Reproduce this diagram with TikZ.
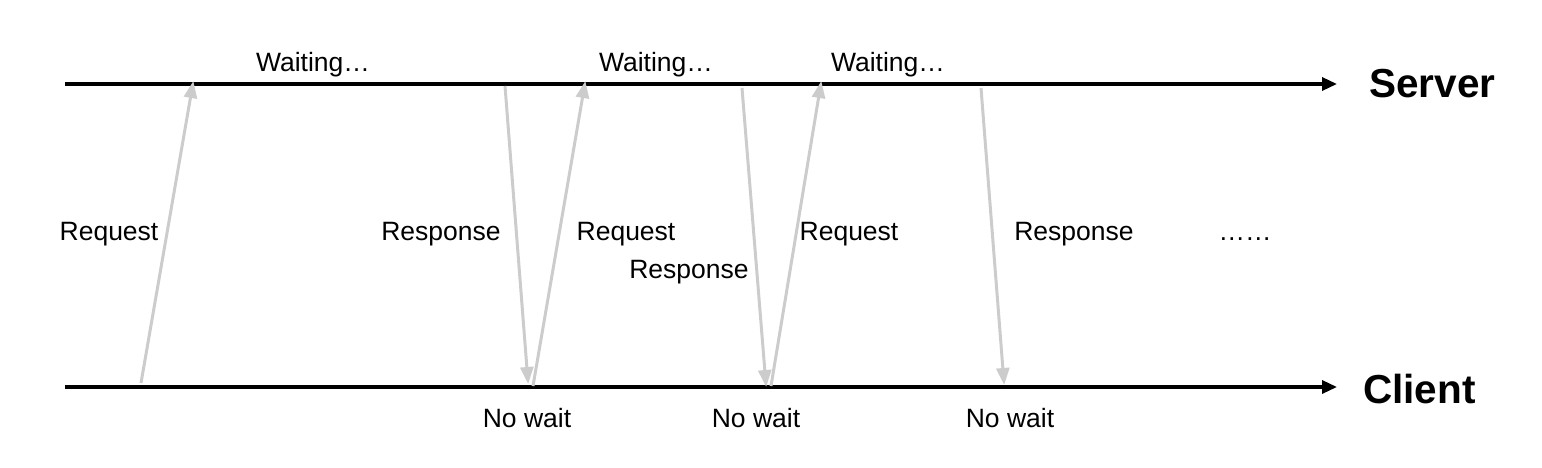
\documentclass[tikz,border=0pt]{standalone}
\usepackage{fontspec}
\setmainfont{Liberation Sans}
\usetikzlibrary{arrows.meta}
\definecolor{msg}{RGB}{204,204,204}
\begin{document}
\begin{tikzpicture}[x=1pt,y=-1pt,
  axis/.style={line width=3.3pt,-{Triangle[length=15pt,width=13pt]}},
  msgarrow/.style={draw=msg,line width=3pt,-{Triangle[length=17pt,width=13pt]},shorten >=-2pt},
  lbl/.style={font=\fontsize{26.5}{30}\selectfont,inner sep=0pt,anchor=base},
  big/.style={font=\fontsize{40.5}{46}\selectfont\bfseries,inner sep=0pt}]
\useasboundingbox (0,0) rectangle (1542,468);
% axes
\coordinate (s0) at (65,84);
\coordinate (s1) at (1337,84);
\coordinate (c0) at (65,387);
\coordinate (c1) at (1337,387);
\draw[axis] (s0) -- (s1);
\draw[axis] (c0) -- (c1);
\node[big,anchor=west] (server) at (1369,84) {Server};
\node[big,anchor=west] (client) at (1363,389) {Client};
% message end points
\coordinate (r1a) at (141,383); \coordinate (r1b) at (193,83);
\coordinate (p1a) at (505,86);  \coordinate (p1b) at (528,382);
\coordinate (r2a) at (533,386); \coordinate (r2b) at (585,83);
\coordinate (p2a) at (742,88);  \coordinate (p2b) at (766,385);
\coordinate (r3a) at (771,386); \coordinate (r3b) at (821,83);
\coordinate (p3a) at (981,88);  \coordinate (p3b) at (1004,383);
\draw[msgarrow] (r1a) -- (r1b);
\draw[msgarrow] (p1a) -- (p1b);
\draw[msgarrow] (r2a) -- (r2b);
\draw[msgarrow] (p2a) -- (p2b);
\draw[msgarrow] (r3a) -- (r3b);
\draw[msgarrow] (p3a) -- (p3b);
% labels
\node[lbl] (w1) at (313,71.5) {Waiting…};
\node[lbl] (w2) at (656,71.5) {Waiting…};
\node[lbl] (w3) at (888,71.5) {Waiting…};
\node[lbl] (q1) at (109,240) {Request};
\node[lbl] (a1) at (441,240) {Response};
\node[lbl] (q2) at (626,240) {Request};
\node[lbl] (a2) at (689,278) {Response};
\node[lbl] (q3) at (849,240) {Request};
\node[lbl] (a3) at (1074,240) {Response};
\node[lbl] (dots) at (1245,240) {……};
\node[lbl] (n1) at (527,427) {No wait};
\node[lbl] (n2) at (756,427) {No wait};
\node[lbl] (n3) at (1010,427) {No wait};
\end{tikzpicture}
\end{document}
